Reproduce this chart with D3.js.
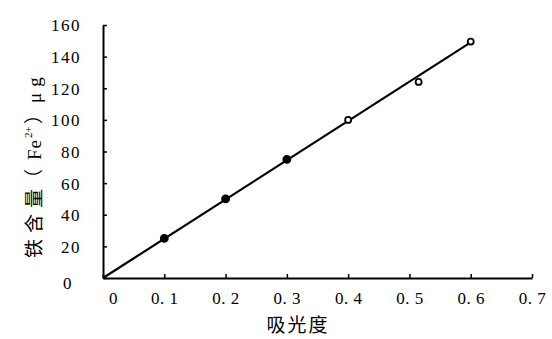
<!DOCTYPE html>
<html>
<head>
<meta charset="utf-8">
<script src="https://cdn.jsdelivr.net/npm/d3@7"></script>
<style>
body { margin: 0; background: #fff; }
</style>
</head>
<body>
<svg id="chart"></svg>
<script>
var width = 552;
var height = 339;

// 数据 (吸光度, 铁含量)
var absorb = [0.1, 0.2, 0.3, 0.4, 0.515, 0.6];
var iron = [25, 50, 75, 100, 124, 149.5];
var filled = [true, true, true, false, false, false];
var fitLine = [[0, 0], [0.6, 149]];
var xTicks = [0, 0.1, 0.2, 0.3, 0.4, 0.5, 0.6, 0.7];
var yTicks = [0, 20, 40, 60, 80, 100, 120, 140, 160];

var numFont = "'Liberation Serif', 'DejaVu Serif', serif";
var cjkFont = "'Noto Sans CJK SC', sans-serif";

var svg = d3.select("#chart")
	.attr("width", width)
	.attr("height", height);

var x = d3.scaleLinear().domain([0, 0.7]).range([103, 532]);
var y = d3.scaleLinear().domain([0, 160]).range([278, 25]);

// x 轴
var xAxis = svg.append("g")
	.attr("transform", "translate(0," + y(0) + ")")
	.call(d3.axisBottom(x).tickValues(xTicks).tickSizeInner(-4).tickSizeOuter(0)
		.tickFormat(function(d){ return d == 0 ? "0" : d3.format(".1f")(d).replace(".", ". "); }));
xAxis.select(".domain").attr("stroke", "#000").attr("stroke-width", 2);
xAxis.selectAll(".tick line").attr("stroke", "#000").attr("stroke-width", 1.5);
xAxis.selectAll(".tick text")
	.attr("y", 14)
	.attr("dx", function(d){ return d == 0 ? 10 : 0; })
	.attr("fill", "#000")
	.style("font-family", numFont)
	.style("font-size", "17px")
	.style("letter-spacing", "0.5px")
	.style("white-space", "pre");

// y 轴
var yAxis = svg.append("g")
	.attr("transform", "translate(" + x(0) + ",0)")
	.call(d3.axisLeft(y).tickValues(yTicks).tickSizeInner(-4).tickSizeOuter(0));
yAxis.select(".domain").attr("stroke", "#000").attr("stroke-width", 2);
yAxis.selectAll(".tick line").attr("stroke", "#000").attr("stroke-width", 1.5);
yAxis.selectAll(".tick text")
	.attr("x", function(d){ return d == 0 ? -30 : -22; })
	.attr("dy", function(d){ return d == 0 ? "0.62em" : "0.35em"; })
	.attr("fill", "#000")
	.style("font-family", numFont)
	.style("font-size", "17px")
	.style("letter-spacing", "1.5px");

// 拟合直线
svg.append("path")
	.datum(fitLine)
	.attr("fill", "none")
	.attr("stroke", "#000")
	.attr("stroke-width", 2.2)
	.attr("d", d3.line().x(function(d){ return x(d[0]); }).y(function(d){ return y(d[1]); }));

// 数据点
svg.append("g").selectAll("circle")
	.data(absorb)
	.join("circle")
	.attr("cx", function(d){ return x(d); })
	.attr("cy", function(d, i){ return y(iron[i]); })
	.attr("r", function(d, i){ return filled[i] ? 3.5 : 3; })
	.attr("fill", function(d, i){ return filled[i] ? "#000" : "#fff"; })
	.attr("stroke", "#000")
	.attr("stroke-width", 1.8);

// 标题
svg.append("text")
	.attr("x", 298)
	.attr("y", 332)
	.attr("text-anchor", "middle")
	.style("font-family", cjkFont)
	.style("font-size", "19px")
	.style("letter-spacing", "2px")
	.text("吸光度");

var yTitle = svg.append("text")
	.attr("transform", "translate(41,258) rotate(-90)")
	.style("font-family", cjkFont)
	.style("font-size", "19px");
yTitle.append("tspan").attr("x", 0).style("letter-spacing", "6px").text("铁含量");
yTitle.append("tspan").attr("x", 70).text("（");
yTitle.append("tspan").attr("x", 98).style("font-family", numFont).style("letter-spacing", "1px").text("Fe");
yTitle.append("tspan").attr("x", 120).attr("dy", -9).style("font-family", numFont).style("font-size", "11px").text("2+");
yTitle.append("tspan").attr("x", 134).attr("dy", 9).text("）");
yTitle.append("tspan").attr("x", 155).style("font-family", numFont).style("letter-spacing", "6px").text("μg");
</script>
</body>
</html>
